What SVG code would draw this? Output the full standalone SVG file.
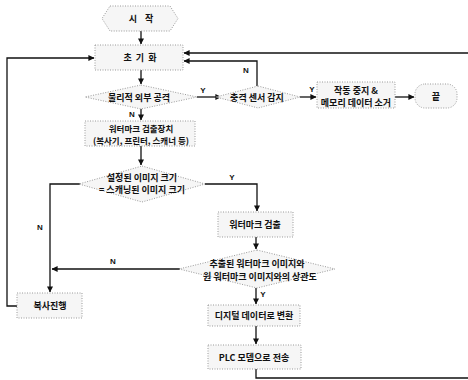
<svg xmlns="http://www.w3.org/2000/svg" width="468" height="380" viewBox="0 0 468 380">
<style>
.s{fill:#f6f6f6;stroke:#9a9a9a;stroke-width:1;stroke-dasharray:1 1.5}
.t{font-family:"Noto Sans CJK KR","Noto Sans",sans-serif;font-size:9px;font-weight:bold;fill:#111;text-anchor:middle;dominant-baseline:central}
.u{font-size:8.5px}
.l{font-family:"Liberation Sans",Arial,sans-serif;font-size:8px;font-weight:bold;fill:#111;text-anchor:middle;dominant-baseline:central}
.c{fill:none;stroke:#111;stroke-width:1.3}
</style>
<defs>
<marker id="a" viewBox="0 0 8 8" refX="7.5" refY="4" markerWidth="6" markerHeight="6" markerUnits="userSpaceOnUse" orient="auto">
<path d="M0,0 L8,4 L0,8 Z" fill="#111"/>
</marker>
</defs>
<g id="connectors">
<path class="c" d="M141,31 V44" marker-end="url(#a)"/>
<path class="c" d="M141,70 V84" marker-end="url(#a)"/>
<path class="c" d="M197,97 H221" marker-end="url(#a)"/>
<path class="c" d="M300,97 H316" marker-end="url(#a)"/>
<path class="c" d="M395,97 H414" marker-end="url(#a)"/>
<path class="c" d="M257,86 V61 H184" marker-end="url(#a)"/>
<path class="c" d="M468,53 H184" marker-end="url(#a)"/>
<path class="c" d="M141,108 V120" marker-end="url(#a)"/>
<path class="c" d="M141,146 V165" marker-end="url(#a)"/>
<path class="c" d="M205,184 H257 V211" marker-end="url(#a)"/>
<path class="c" d="M80,184 H50 V292" marker-end="url(#a)"/>
<path class="c" d="M256,237 V249" marker-end="url(#a)"/>
<path class="c" d="M180,269 H52" marker-end="url(#a)"/>
<path class="c" d="M256,288 V304" marker-end="url(#a)"/>
<path class="c" d="M256,326 V344" marker-end="url(#a)"/>
<path class="c" d="M256,369 V378 H468"/>
<path class="c" d="M17,306 H7 V58 H94" marker-end="url(#a)"/>
<text class="l" x="203" y="90">Y</text>
<text class="l" x="312" y="89">Y</text>
<text class="l" x="246" y="70">N</text>
<text class="l" x="132" y="114">N</text>
<text class="l" x="232" y="177">Y</text>
<text class="l" x="40" y="227">N</text>
<text class="l" x="113" y="261">N</text>
<text class="l" x="263" y="294">Y</text>
</g>
<g id="start">
<path class="s" d="M110,6 H170 L178,18.5 L170,31 H110 L102,18.5 Z"/>
<text class="t" x="141" y="18.5" word-spacing="6">시 작</text>
</g>
<g id="init">
<rect class="s" x="95" y="45" width="88" height="25"/>
<text class="t" x="140" y="57.5" word-spacing="2">초 기 화</text>
</g>
<g id="attack">
<path class="s" d="M141,85 L197,97 L141,109 L85,97 Z"/>
<text class="t" x="139" y="97">물리적 외부 공격</text>
</g>
<g id="shock">
<path class="s" d="M258,86 L300,97 L258,108 L216,97 Z"/>
<text class="t" x="257" y="97">충격 센서 감지</text>
</g>
<g id="stop">
<rect class="s" x="317" y="82" width="78" height="26"/>
<text class="t" x="356" y="90">작동 중지 &amp;</text>
<text class="t" x="356" y="102">메모리 데이터 소거</text>
</g>
<g id="end">
<rect class="s" x="415" y="84" width="42" height="24" rx="10"/>
<text class="t" x="436" y="96">끝</text>
</g>
<g id="device">
<rect class="s" x="85" y="121" width="110" height="25"/>
<text class="t u" x="141" y="127.5">워터마크 검출장치</text>
<text class="t u" x="141" y="139.5">(복사기, 프린터, 스캐너 등)</text>
</g>
<g id="size">
<path class="s" d="M142,166 L205,184 L142,202 L79,184 Z"/>
<text class="t" x="142" y="177">설정된 이미지 크기</text>
<text class="t" x="142" y="189.5">= 스캐닝된 이미지 크기</text>
</g>
<g id="detect">
<rect class="s" x="218" y="212" width="75" height="25"/>
<text class="t" x="255" y="224.5">워터마크 검출</text>
</g>
<g id="corr">
<path class="s" d="M257,250 L335,269 L257,288 L179,269 Z"/>
<text class="t" x="257" y="263.5">추출된 워터마크 이미지와</text>
<text class="t" x="260" y="276">원 워터마크 이미지와의 상관도</text>
</g>
<g id="copy">
<rect class="s" x="17" y="293" width="65" height="25"/>
<text class="t" x="50" y="305.5">복사진행</text>
</g>
<g id="digital">
<rect class="s" x="208" y="305" width="92" height="21"/>
<text class="t" x="254" y="315.5">디지털 데이터로 변환</text>
</g>
<g id="plc">
<rect class="s" x="208" y="345" width="93" height="24"/>
<text class="t" x="254" y="357">PLC 모뎀으로 전송</text>
</g>
</svg>
